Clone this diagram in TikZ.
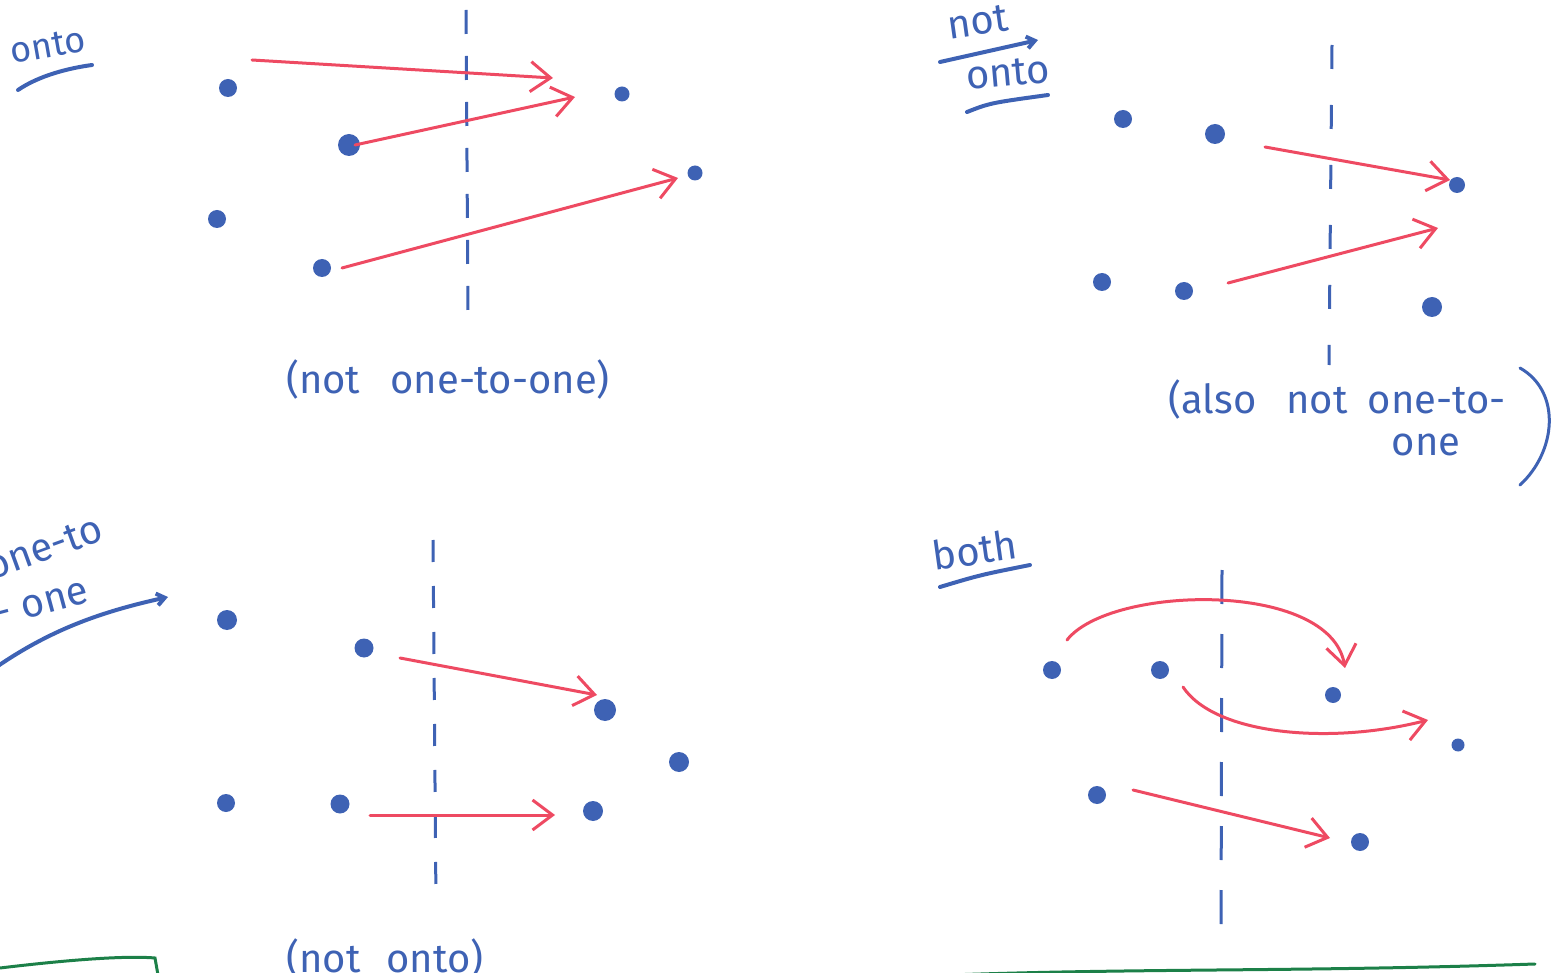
\documentclass[tikz,border=0pt]{standalone}
\usepackage{fontspec}
\setmainfont{Fira Sans}
\usepackage{tikz}
\usetikzlibrary{arrows.meta,calc}
\definecolor{ink_blue}{RGB}{62,98,180}
\definecolor{ink_red}{RGB}{238,74,98}
\definecolor{ink_green}{RGB}{28,128,72}

\begin{document}
\begin{tikzpicture}[
    x=1pt, y=-1pt,
    dot_node/.style={circle, fill=ink_blue, inner sep=0pt, minimum size=18pt},
    big_dot/.style={dot_node, minimum size=22pt},
    small_dot/.style={dot_node, minimum size=15pt},
    map_arrow/.style={-{Straight Barb[length=20pt, width=30pt]}, draw=ink_red, line width=3pt, line cap=round},
    cut_line/.style={draw=ink_blue, line width=3pt, dash pattern=on 24pt off 22pt},
    note_lbl/.style={text=ink_blue, font=\fontsize{40}{46}\selectfont, inner sep=0pt},
    pen_line/.style={draw=ink_blue, line width=4pt, line cap=round},
    pen_arrow/.style={pen_line, -{Straight Barb[length=8pt, width=12pt]}},
    rule_line/.style={draw=ink_green, line width=3pt, line cap=round}
]
    \useasboundingbox (0,0) rectangle (1567,973);

    % Onto panel
    \node[note_lbl, font=\fontsize{36}{42}\selectfont, rotate=10] (onto_lbl) at (48,46) {onto};
    \draw[pen_line] (18,90) .. controls (40,75) and (70,68) .. (92,65);
    \draw[cut_line] (466,10) -- (468,312);
    \node[dot_node] (A1) at (228,88) {};
    \node[big_dot] (A2) at (349,145) {};
    \node[dot_node] (A3) at (217,219) {};
    \node[dot_node] (A4) at (322,268) {};
    \node[small_dot] (B1) at (622,94) {};
    \node[small_dot] (B2) at (695,173) {};
    \draw[map_arrow] ($(A1)+(24,-28)$) -- ($(B1)+(-69,-16)$);
    \draw[map_arrow] ($(A2)+(6,0)$) -- ($(B1)+(-47,3)$);
    \draw[map_arrow] ($(A4)+(20,0)$) -- ($(B2)+(-17,5)$);
    \node[note_lbl] (onto_note) at (448,380) {(not\hspace{30pt}one-to-one)};

    % Not onto panel
    \node[note_lbl, rotate=8] (not_lbl) at (978,22) {not};
    \draw[pen_arrow] (940,62) -- (1038,40);
    \node[note_lbl, rotate=5] (onto_lbl2) at (1008,73) {onto};
    \draw[pen_line] (967,112) .. controls (990,103) .. (1048,95);
    \draw[cut_line, dash pattern=on 24pt off 36pt] (1332,45) -- (1329,365);
    \node[dot_node] (C1) at (1123,119) {};
    \node[dot_node, minimum size=20pt] (C2) at (1215,134) {};
    \node[dot_node] (C3) at (1102,282) {};
    \node[dot_node] (C4) at (1184,291) {};
    \node[small_dot, minimum size=16pt] (D1) at (1457,185) {};
    \node[dot_node, minimum size=20pt] (D2) at (1432,307) {};
    \coordinate (D_gap) at (1438,228);
    \draw[map_arrow] ($(C2)+(50,13)$) -- ($(D1)+(-7,-5)$);
    \draw[map_arrow] ($(C4)+(44,-8)$) -- (D_gap);
    \node[note_lbl] (also_note) at (1337,400) {(also\hspace{30pt}not\hspace{20pt}one-to-};
    \node[note_lbl] (also_note2) at (1426,445) {one};
    \draw[pen_line, line width=3pt] (1520,368) .. controls (1562,392) and (1556,452) .. (1520,485);

    % One-to-one panel
    \node[note_lbl, rotate=20] (oto_lbl) at (44,548) {one-to};
    \node[note_lbl, rotate=15] (oto_lbl2) at (42,604) {- one};
    \draw[pen_arrow] (-5,668) .. controls (50,630) and (100,612) .. (168,597);
    \draw[cut_line, dash pattern=on 22pt off 24pt] (433,540) -- (436,905);
    \node[dot_node, minimum size=20pt] (E1) at (227,620) {};
    \node[dot_node, minimum size=19pt] (E2) at (364,648) {};
    \node[dot_node] (E3) at (226,803) {};
    \node[dot_node, minimum size=19pt] (E4) at (340,804) {};
    \node[big_dot] (F1) at (605,710) {};
    \node[dot_node, minimum size=20pt] (F2) at (679,762) {};
    \node[dot_node, minimum size=20pt] (F3) at (593,811) {};
    \draw[map_arrow] ($(E2)+(36,10)$) -- ($(F1)+(-8,-15)$);
    \draw[map_arrow] ($(E4)+(30,11)$) -- ($(F3)+(-38,4)$);
    \node[note_lbl] (oto_note) at (385,958) {(not\hspace{26pt}onto)};
    \draw[rule_line] (0,968) .. controls (50,962) and (120,955) .. (155,958) -- (158,975);

    % Both panel
    \node[note_lbl, rotate=8] (both_lbl) at (975,550) {both};
    \draw[pen_line] (940,587) .. controls (980,575) .. (1030,565);
    \draw[cut_line, dash pattern=on 34pt off 30pt] (1222,570) -- (1221,935);
    \node[dot_node] (G1) at (1052,670) {};
    \node[dot_node] (G2) at (1160,670) {};
    \node[dot_node] (G3) at (1097,795) {};
    \node[small_dot, minimum size=16pt] (H1) at (1333,695) {};
    \node[small_dot, minimum size=13pt] (H2) at (1458,745) {};
    \node[dot_node] (H3) at (1360,842) {};
    \draw[map_arrow] ($(G1)+(15,-30)$) .. controls (1110,585) and (1330,580) .. ($(H1)+(12,-27)$);
    \draw[map_arrow] ($(G2)+(23,17)$) .. controls (1215,735) and (1330,745) .. ($(H2)+(-30,-25)$);
    \draw[map_arrow] ($(G3)+(36,-5)$) -- ($(H3)+(-30,-4)$);
    \draw[rule_line] (950,975) .. controls (1150,968) and (1300,972) .. (1535,964);
\end{tikzpicture}
\end{document}
